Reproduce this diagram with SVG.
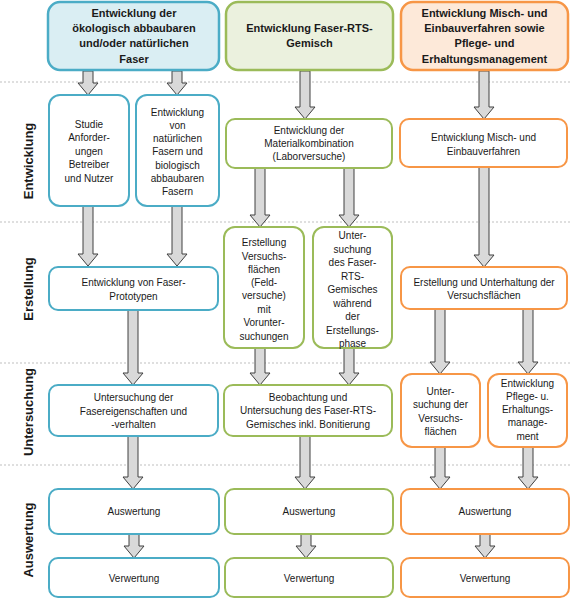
<svg xmlns="http://www.w3.org/2000/svg" width="571" height="600" viewBox="0 0 571 600">
<style>
.bg{fill:#ffffff}
.sep{stroke:#bfbfbf;stroke-width:1;stroke-dasharray:2 2;fill:none}
.blue{fill:#ffffff;stroke:#4bacc6;stroke-width:2}
.green{fill:#ffffff;stroke:#9bbb59;stroke-width:2}
.orange{fill:#ffffff;stroke:#f79646;stroke-width:2}
.hblue{fill:#daeef3;stroke:#4bacc6;stroke-width:2.5}
.hgreen{fill:#ebf1de;stroke:#9bbb59;stroke-width:2.5}
.horange{fill:#fde9d9;stroke:#f79646;stroke-width:2.5}
.arr{fill:#d9d9d9;stroke:#404040;stroke-width:1}
text{font-family:"Liberation Sans",Arial,sans-serif;fill:#1a1a1a;text-anchor:middle}
.h{font-size:11px;font-weight:bold}
.t{font-size:10px}
.side{font-size:13px;font-weight:bold}
</style>
<rect class="bg" x="0" y="0" width="571" height="600"/>
<g id="separators">
<line class="sep" x1="0" y1="82" x2="571" y2="82"/>
<line class="sep" x1="0" y1="222" x2="571" y2="222"/>
<line class="sep" x1="0" y1="363" x2="571" y2="363"/>
<line class="sep" x1="0" y1="465" x2="571" y2="465"/>
</g>
<g id="side-labels">
<text class="side" transform="translate(32.5,161) rotate(-90)">Entwicklung</text>
<text class="side" transform="translate(32.5,289) rotate(-90)">Erstellung</text>
<text class="side" transform="translate(32.5,412) rotate(-90)">Untersuchung</text>
<text class="side" transform="translate(32.5,540) rotate(-90)">Auswertung</text>
</g>
<g id="connectors">
<path class="arr" d="M83,71H93V83H98L88,95L78,83H83Z"/>
<path class="arr" d="M172,71H182V83H187L177,95L167,83H172Z"/>
<path class="arr" d="M83,206H93V254H98L88,266L78,254H83Z"/>
<path class="arr" d="M172,206H182V254H187L177,266L167,254H172Z"/>
<path class="arr" d="M128,310H138V373H143L133,385L123,373H128Z"/>
<path class="arr" d="M128,436H138V477H143L133,489L123,477H128Z"/>
<path class="arr" d="M129,534H139V546H144L134,558L124,546H129Z"/>
<path class="arr" d="M300,71H310V107H315L305,119L295,107H300Z"/>
<path class="arr" d="M255,168H265V215H270L260,227L250,215H255Z"/>
<path class="arr" d="M344,168H354V215H359L349,227L339,215H344Z"/>
<path class="arr" d="M255,348H265V373H270L260,385L250,373H255Z"/>
<path class="arr" d="M344,348H354V373H359L349,385L339,373H344Z"/>
<path class="arr" d="M300,436H310V477H315L305,489L295,477H300Z"/>
<path class="arr" d="M301,534H311V546H316L306,558L296,546H301Z"/>
<path class="arr" d="M479,71H489V107H494L484,119L474,107H479Z"/>
<path class="arr" d="M479,167H489V255H494L484,267L474,255H479Z"/>
<path class="arr" d="M435,309H445V362H450L440,374L430,362H435Z"/>
<path class="arr" d="M523,309H533V362H538L528,374L518,362H523Z"/>
<path class="arr" d="M435,447H445V477H450L440,489L430,477H435Z"/>
<path class="arr" d="M523,447H533V477H538L528,489L518,477H523Z"/>
<path class="arr" d="M480,534H490V546H495L485,558L475,546H480Z"/>
</g>
<g id="hdr-blue">
<rect class="hblue" x="48" y="2" width="171" height="68" rx="12"/>
<text class="h" x="134" y="17">Entwicklung der</text>
<text class="h" x="134" y="32">ökologisch abbaubaren</text>
<text class="h" x="134" y="47">und/oder natürlichen</text>
<text class="h" x="134" y="63">Faser</text>
</g>
<g id="hdr-green">
<rect class="hgreen" x="226" y="2" width="167" height="68" rx="12"/>
<text class="h" x="309.5" y="32">Entwicklung Faser-RTS-</text>
<text class="h" x="309.5" y="47">Gemisch</text>
</g>
<g id="hdr-orange">
<rect class="horange" x="401" y="2" width="167" height="68" rx="12"/>
<text class="h" x="484.5" y="17">Entwicklung Misch- und</text>
<text class="h" x="484.5" y="32">Einbauverfahren sowie</text>
<text class="h" x="484.5" y="47">Pflege- und</text>
<text class="h" x="484.5" y="63">Erhaltungsmanagement</text>
</g>
<g id="studie">
<rect class="blue" x="49" y="95" width="80" height="111" rx="11"/>
<text class="t" x="89" y="127.5">Studie</text>
<text class="t" x="89" y="141">Anforder-</text>
<text class="t" x="89" y="154.5">ungen</text>
<text class="t" x="89" y="168">Betreiber</text>
<text class="t" x="89" y="181.5">und Nutzer</text>
</g>
<g id="entw-fasern">
<rect class="blue" x="136" y="95" width="83" height="111" rx="11"/>
<text class="t" x="177.5" y="115.5">Entwicklung</text>
<text class="t" x="177.5" y="128.8">von</text>
<text class="t" x="177.5" y="142.1">natürlichen</text>
<text class="t" x="177.5" y="155.4">Fasern und</text>
<text class="t" x="177.5" y="168.7">biologisch</text>
<text class="t" x="177.5" y="182">abbaubaren</text>
<text class="t" x="177.5" y="195.3">Fasern</text>
</g>
<g id="prototypen">
<rect class="blue" x="49" y="267" width="169" height="43" rx="9"/>
<text class="t" x="133.5" y="285.5">Entwicklung von Faser-</text>
<text class="t" x="133.5" y="299.5">Prototypen</text>
</g>
<g id="unters-faser">
<rect class="blue" x="49" y="385" width="169" height="51" rx="9"/>
<text class="t" x="133.5" y="400.5">Untersuchung der</text>
<text class="t" x="133.5" y="414.5">Fasereigenschaften und</text>
<text class="t" x="133.5" y="428">-verhalten</text>
</g>
<g id="ausw-blue">
<rect class="blue" x="49" y="489" width="170" height="45" rx="9"/>
<text class="t" x="134" y="515">Auswertung</text>
</g>
<g id="verw-blue">
<rect class="blue" x="49" y="558" width="170" height="39" rx="9"/>
<text class="t" x="134" y="581.5">Verwertung</text>
</g>
<g id="material">
<rect class="green" x="226" y="119" width="166" height="49" rx="9"/>
<text class="t" x="309" y="133.5">Entwicklung der</text>
<text class="t" x="309" y="147">Materialkombination</text>
<text class="t" x="309" y="160">(Laborversuche)</text>
</g>
<g id="erst-vf">
<rect class="green" x="224" y="227" width="80" height="121" rx="11"/>
<text class="t" x="264" y="246.2">Erstellung</text>
<text class="t" x="264" y="259.5">Versuchs-</text>
<text class="t" x="264" y="272.8">flächen</text>
<text class="t" x="264" y="286.1">(Feld-</text>
<text class="t" x="264" y="299.4">versuche)</text>
<text class="t" x="264" y="312.7">mit</text>
<text class="t" x="264" y="326">Vorunter-</text>
<text class="t" x="264" y="339.5">suchungen</text>
</g>
<g id="unters-rts">
<rect class="green" x="313" y="227" width="79" height="121" rx="11"/>
<text class="t" x="352.5" y="239">Unter-</text>
<text class="t" x="352.5" y="252.5">suchung</text>
<text class="t" x="352.5" y="266">des Faser-</text>
<text class="t" x="352.5" y="279.5">RTS-</text>
<text class="t" x="352.5" y="293">Gemisches</text>
<text class="t" x="352.5" y="306.5">während</text>
<text class="t" x="352.5" y="320">der</text>
<text class="t" x="352.5" y="333.5">Erstellungs-</text>
<text class="t" x="352.5" y="347">phase</text>
</g>
<g id="beob">
<rect class="green" x="224" y="385" width="168" height="51" rx="9"/>
<text class="t" x="308" y="400.5">Beobachtung und</text>
<text class="t" x="308" y="414">Untersuchung des Faser-RTS-</text>
<text class="t" x="308" y="427.5">Gemisches inkl. Bonitierung</text>
</g>
<g id="ausw-green">
<rect class="green" x="225" y="489" width="168" height="45" rx="9"/>
<text class="t" x="309" y="515">Auswertung</text>
</g>
<g id="verw-green">
<rect class="green" x="225" y="558" width="168" height="39" rx="9"/>
<text class="t" x="309" y="581.5">Verwertung</text>
</g>
<g id="misch">
<rect class="orange" x="400" y="119" width="167" height="48" rx="9"/>
<text class="t" x="483.5" y="140.5">Entwicklung Misch- und</text>
<text class="t" x="483.5" y="154.5">Einbauverfahren</text>
</g>
<g id="erst-unterh">
<rect class="orange" x="401" y="267" width="166" height="42" rx="9"/>
<text class="t" x="484" y="285.5">Erstellung und Unterhaltung der</text>
<text class="t" x="484" y="299">Versuchsflächen</text>
</g>
<g id="unters-vf">
<rect class="orange" x="401" y="374" width="79" height="73" rx="11"/>
<text class="t" x="440.5" y="394.5">Unter-</text>
<text class="t" x="440.5" y="408">suchung der</text>
<text class="t" x="440.5" y="421.5">Versuchs-</text>
<text class="t" x="440.5" y="435">flächen</text>
</g>
<g id="pflege">
<rect class="orange" x="488" y="374" width="79" height="73" rx="11"/>
<text class="t" x="527.5" y="386.5">Entwicklung</text>
<text class="t" x="527.5" y="399.8">Pflege- u.</text>
<text class="t" x="527.5" y="413.1">Erhaltungs-</text>
<text class="t" x="527.5" y="426.4">manage-</text>
<text class="t" x="527.5" y="439.7">ment</text>
</g>
<g id="ausw-orange">
<rect class="orange" x="401" y="489" width="168" height="45" rx="9"/>
<text class="t" x="485" y="515">Auswertung</text>
</g>
<g id="verw-orange">
<rect class="orange" x="401" y="558" width="168" height="39" rx="9"/>
<text class="t" x="485" y="581.5">Verwertung</text>
</g>
</svg>
